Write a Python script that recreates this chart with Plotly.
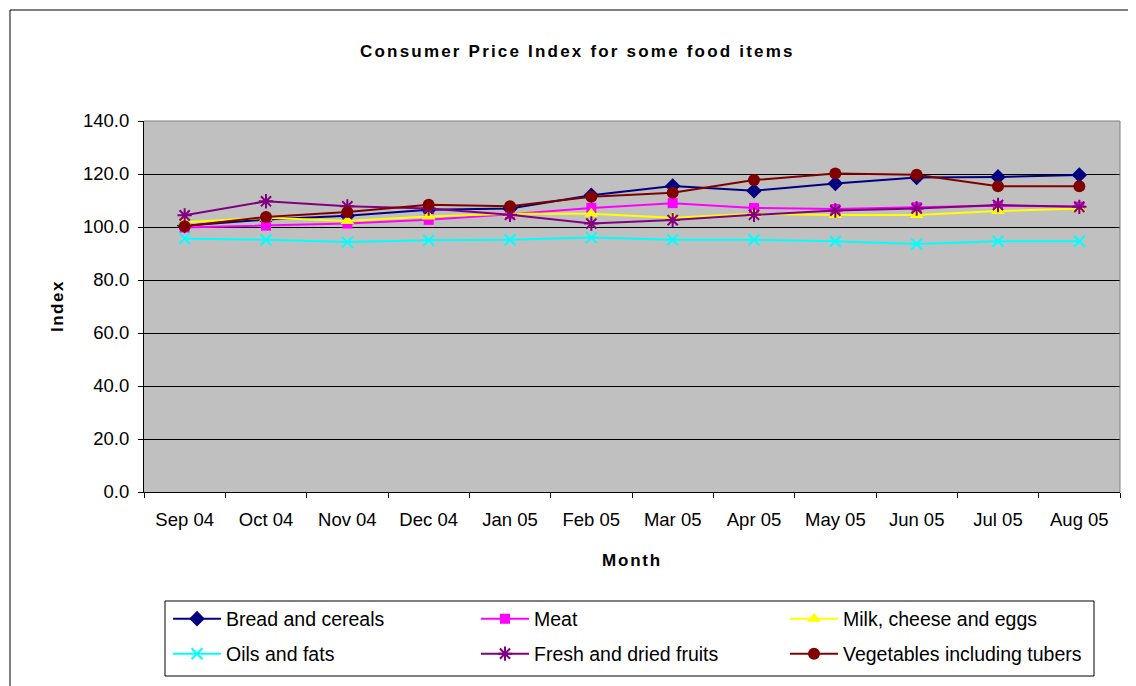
import plotly.graph_objects as go

months = ["Sep 04", "Oct 04", "Nov 04", "Dec 04", "Jan 05", "Feb 05",
          "Mar 05", "Apr 05", "May 05", "Jun 05", "Jul 05", "Aug 05"]

bread = [100.5, 102.8, 104.2, 106.5, 107.0, 112.0, 115.5, 113.7, 116.4, 118.7, 118.9, 119.6]
meat = [99.8, 100.5, 101.3, 102.7, 104.8, 107.2, 109.0, 107.2, 106.8, 107.5, 108.0, 107.7]
milk = [101.8, 103.5, 102.3, 104.0, 105.0, 105.0, 103.5, 105.0, 104.5, 104.5, 106.0, 107.0]
oils = [95.6, 95.2, 94.3, 95.0, 95.2, 96.0, 95.2, 95.2, 94.6, 93.6, 94.6, 94.6]
fresh = [104.4, 109.7, 107.8, 107.0, 104.6, 101.3, 102.6, 104.6, 106.2, 107.0, 108.3, 107.6]
veg = [100.3, 103.8, 105.7, 108.4, 107.8, 111.4, 112.9, 117.7, 120.2, 119.7, 115.4, 115.4]

series_names = ["Bread and cereals", "Meat", "Milk, cheese and eggs",
                "Oils and fats", "Fresh and dried fruits", "Vegetables including tubers"]

FONT = "Liberation Sans, Arial, sans-serif"

# page body has an 8px margin in the browser
OFF = 8
PAGE_W, PAGE_H = 1136, 686
W, H = PAGE_W - OFF, PAGE_H - OFF
# plot area in page pixels
L, R, T, B = 144, 1120, 121, 492
PW, PH = R - L, B - T

def px(x):
    return (x - L) / PW

def py(y):
    return (B - y) / PH

styles = [
    dict(color="#000080", symbol="diamond", size=12, lw=None),
    dict(color="#FF00FF", symbol="square", size=10, lw=None),
    dict(color="#FFFF00", symbol="triangle-up", size=12, lw=None),
    dict(color="#00FFFF", symbol="x-thin", size=11, lw=2),
    dict(color="#800080", symbol="asterisk", size=12, lw=2),
    dict(color="#800000", symbol="circle", size=12, lw=None),
]
data = [bread, meat, milk, oils, fresh, veg]

# legend placement (row, column)
leg_rows = [619, 654]
leg_cols = [168, 476, 785]
legend_pos = [(0, 0), (0, 1), (0, 2), (1, 0), (1, 1), (1, 2)]

fig = go.Figure()
layout_legends = {}
for i, (name, vals, st) in enumerate(zip(series_names, data, styles)):
    lname = "legend" if i == 0 else f"legend{i+1}"
    marker = dict(color=st["color"], symbol=st["symbol"], size=st["size"])
    if st["lw"]:
        marker["line"] = dict(color=st["color"], width=st["lw"])
    else:
        marker["line"] = dict(width=0)
    fig.add_trace(go.Scatter(
        x=months, y=vals, name=name, mode="lines+markers",
        line=dict(color=st["color"], width=2),
        marker=marker, legend=lname,
    ))
    r, c = legend_pos[i]
    layout_legends[lname] = dict(
        x=px(leg_cols[c]), y=py(leg_rows[r]), xanchor="left", yanchor="middle",
        bgcolor="rgba(0,0,0,0)", borderwidth=0,
        font=dict(family=FONT, size=19.5, color="#000000"),
        itemwidth=48,
    )

shapes = [
    # legend box
    dict(type="rect", xref="paper", yref="paper",
         x0=px(165), x1=px(1094), y0=py(601), y1=py(676),
         line=dict(color="#000000", width=1), fillcolor="#FFFFFF", layer="below"),
    # outer chart border (top and left)
    dict(type="line", xref="paper", yref="paper",
         x0=px(10), x1=px(1140), y0=py(10), y1=py(10),
         line=dict(color="#000000", width=1)),
    dict(type="line", xref="paper", yref="paper",
         x0=px(10), x1=px(10), y0=py(10), y1=py(700),
         line=dict(color="#000000", width=1)),
    # plot area top/right border (gray)
    dict(type="line", xref="paper", yref="paper",
         x0=0, x1=1, y0=1, y1=1, line=dict(color="#808080", width=1)),
    dict(type="line", xref="paper", yref="paper",
         x0=1, x1=1, y0=0, y1=1, line=dict(color="#808080", width=1)),
]

annotations = [
    dict(text='<span style="letter-spacing:2.2px"><b>Consumer Price Index for some food items</b></span>',
         x=px(577), y=py(51), xref="paper", yref="paper", showarrow=False,
         xanchor="center", yanchor="middle",
         font=dict(family=FONT, size=17, color="#000000")),
    dict(text='<span style="letter-spacing:1.8px"><b>Month</b></span>',
         x=px(632), y=py(560), xref="paper", yref="paper", showarrow=False,
         xanchor="center", yanchor="middle",
         font=dict(family=FONT, size=17, color="#000000")),
    dict(text='<span style="letter-spacing:1.5px"><b>Index</b></span>',
         x=px(57), y=py(306), xref="paper", yref="paper", showarrow=False,
         xanchor="center", yanchor="middle", textangle=-90,
         font=dict(family=FONT, size=17, color="#000000")),
]

fig.update_layout(
    width=W, height=H,
    margin=dict(l=L - OFF, r=PAGE_W - R, t=T - OFF, b=PAGE_H - B, autoexpand=False),
    paper_bgcolor="#FFFFFF", plot_bgcolor="#C0C0C0",
    showlegend=True,
    shapes=shapes, annotations=annotations,
    **layout_legends,
)
fig.update_xaxes(
    type="category", range=[-0.5, 11.5],
    showline=True, linecolor="#000000", linewidth=1,
    ticks="outside", tickson="boundaries", ticklen=5, tickcolor="#000000",
    showgrid=False, zeroline=False,
    tickfont=dict(family=FONT, size=18.5, color="#000000"),
    ticklabelstandoff=11,
)
fig.update_yaxes(
    range=[0, 140], dtick=20, tickformat=".1f",
    showline=True, linecolor="#000000", linewidth=1,
    ticks="outside", ticklen=5, tickcolor="#000000",
    showgrid=True, gridcolor="#000000", gridwidth=1, zeroline=False,
    tickfont=dict(family=FONT, size=18.5, color="#000000"),
    ticklabelstandoff=5,
)

fig.write_html("out.html")
